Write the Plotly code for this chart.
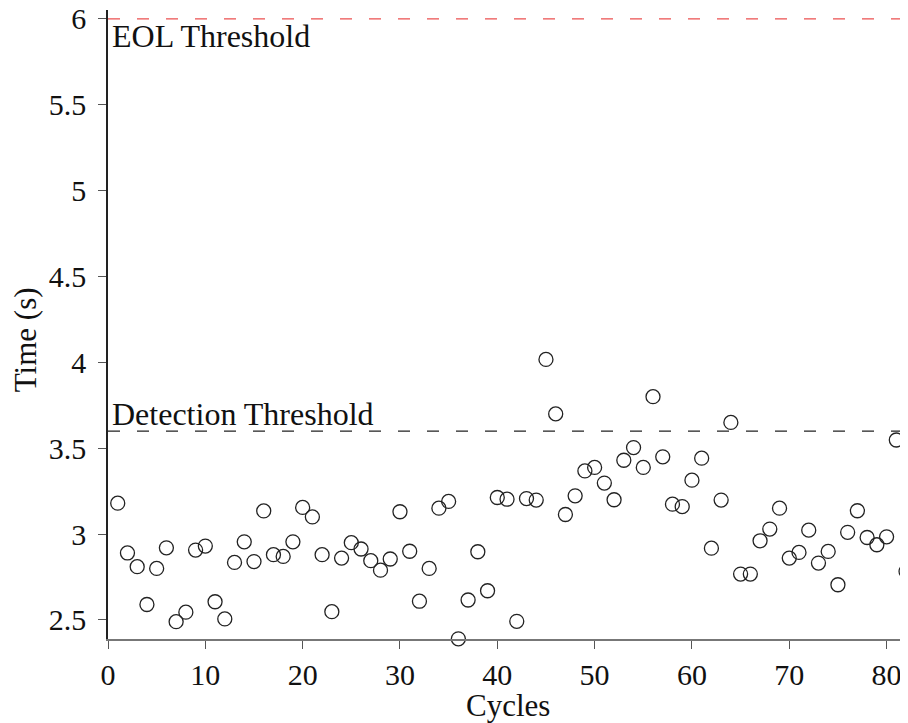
import plotly.graph_objects as go

cycles = list(range(1, 83))
times = [3.18, 2.89, 2.81, 2.59, 2.80, 2.92, 2.49, 2.545, 2.907, 2.93,
         2.606, 2.506, 2.835, 2.955, 2.84, 3.135, 2.88, 2.87, 2.955, 3.155,
         3.10, 2.88, 2.548, 2.86, 2.95, 2.913, 2.845, 2.79, 2.855, 3.13,
         2.90, 2.609, 2.80, 3.151, 3.19, 2.39, 2.616, 2.897, 2.67, 3.213,
         3.203, 2.492, 3.207, 3.198, 4.017, 3.70, 3.114, 3.223, 3.368, 3.388,
         3.297, 3.20, 3.43, 3.504, 3.388, 3.80, 3.45, 3.174, 3.16, 3.314,
         3.442, 2.918, 3.198, 3.65, 2.767, 2.767, 2.961, 3.029, 3.151, 2.86,
         2.893, 3.023, 2.831, 2.899, 2.705, 3.01, 3.136, 2.98, 2.938, 2.984,
         3.548, 2.783]

detection_threshold = 3.6
eol_threshold = 6.0
x_ticks = [0, 10, 20, 30, 40, 50, 60, 70, 80]
y_ticks = [2.5, 3, 3.5, 4, 4.5, 5, 5.5, 6]
y_tick_text = ["2.5", "3", "3.5", "4", "4.5", "5", "5.5", "6"]

FONT = "Liberation Serif"
TXT = "#111111"

fig = go.Figure()
fig.add_trace(go.Scatter(
    x=cycles, y=times, mode="markers",
    marker=dict(symbol="circle-open", size=14, color="#222222",
                line=dict(width=1.3, color="#222222")),
    showlegend=False, cliponaxis=False))

fig.add_shape(type="line", xref="x", yref="y", x0=0, x1=82.2,
              y0=detection_threshold, y1=detection_threshold,
              line=dict(color="#222222", width=1.2, dash="12px,17px"))
fig.add_shape(type="line", xref="x", yref="y", x0=0, x1=82.2,
              y0=eol_threshold, y1=eol_threshold,
              line=dict(color="rgb(235,80,80)", width=1.2, dash="12px,17px"))

fig.add_annotation(x=0, y=detection_threshold, xref="x", yref="y",
                   text="Detection Threshold", showarrow=False,
                   xanchor="left", yanchor="bottom", xshift=2, yshift=-3,
                   font=dict(family=FONT, size=32, color=TXT))
fig.add_annotation(x=0, y=eol_threshold, xref="x", yref="y",
                   text="EOL Threshold", showarrow=False,
                   xanchor="left", yanchor="top", xshift=2, yshift=3,
                   font=dict(family=FONT, size=32, color=TXT))

# axis titles
fig.add_annotation(x=0.5, y=0, xref="paper", yref="paper",
                   text="Cycles", showarrow=False,
                   xanchor="center", yanchor="top", yshift=-47,
                   font=dict(family=FONT, size=31, color=TXT))
fig.add_annotation(x=0, y=0.475, xref="paper", yref="paper",
                   text="Time (s)", showarrow=False, textangle=-90,
                   xanchor="center", yanchor="middle", xshift=-83,
                   font=dict(family=FONT, size=31, color=TXT))

# the page body adds an 8px offset, so the figure is sized to compensate
fig.update_layout(
    width=900, height=715,
    margin=dict(l=100, r=0, t=2, b=84),
    plot_bgcolor="white", paper_bgcolor="white",
    font=dict(family=FONT, size=29, color=TXT),
    xaxis=dict(range=[0, 82.2], tickvals=x_ticks, showgrid=False, zeroline=False,
               showline=True, linecolor="#777777", linewidth=1.5,
               ticks="outside", ticklen=8, tickcolor="#555555", tickwidth=1,
               automargin=False, ticklabeloverflow="allow",
               tickfont=dict(family=FONT, size=30, color=TXT)),
    yaxis=dict(range=[2.389, 6.052], tickvals=y_ticks, ticktext=y_tick_text,
               showgrid=False, zeroline=False,
               showline=True, linecolor="#222222", linewidth=1.5,
               ticks="outside", ticklen=8, tickcolor="#555555", tickwidth=1,
               automargin=False, ticklabelstandoff=6, ticklabeloverflow="allow",
               tickfont=dict(family=FONT, size=30, color=TXT)),
)

fig.write_html("out.html")
